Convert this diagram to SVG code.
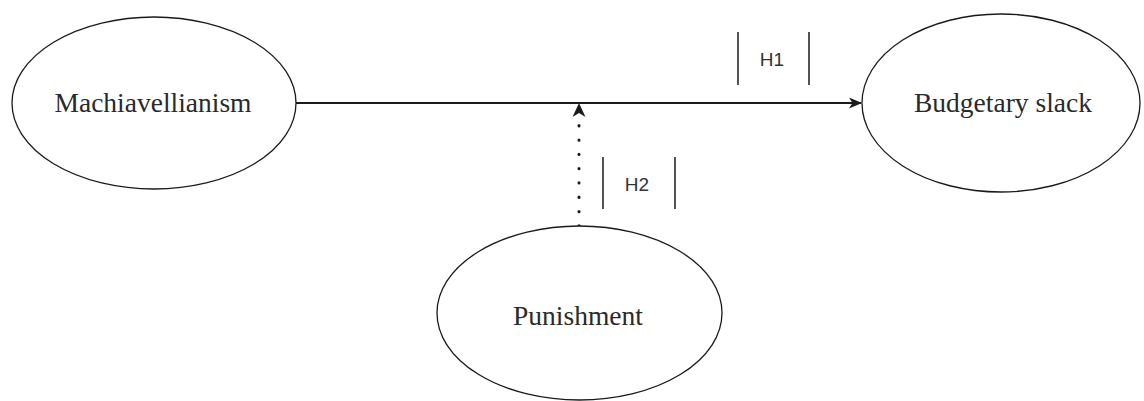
<svg xmlns="http://www.w3.org/2000/svg" width="1144" height="401" viewBox="0 0 1144 401">
  <style>
    .node ellipse { fill: #ffffff; stroke: #1a1a1a; stroke-width: 1.3; }
    .lbl { font-family: "Liberation Serif", "Times New Roman", serif; font-size: 27.5px; fill: #2a2a2a; text-anchor: middle; }
    .hyp { font-family: "Liberation Sans", Arial, sans-serif; font-size: 19px; fill: #333; text-anchor: middle; }
    .bar { stroke: #1a1a1a; stroke-width: 1.5; }
    .edge { stroke: #1a1a1a; stroke-width: 1.8; fill: none; }
  </style>
  <defs>
    <marker id="arrow" viewBox="0 0 13 11" refX="12" refY="5.5" markerWidth="13" markerHeight="11" markerUnits="userSpaceOnUse" orient="auto">
      <path d="M0,0 L13,5.5 L0,11 L3.5,5.5 Z" fill="#1a1a1a"/>
    </marker>
    <marker id="arrow2" viewBox="0 0 14 13" refX="13" refY="6.5" markerWidth="14" markerHeight="13" markerUnits="userSpaceOnUse" orient="auto">
      <path d="M0,0 L14,6.5 L0,13 L4,6.5 Z" fill="#1a1a1a"/>
    </marker>
  </defs>
  <rect width="1144" height="401" fill="#ffffff"/>

  <g id="connectors">
    <line class="edge" x1="296" y1="103" x2="861" y2="103" marker-end="url(#arrow)"/>
    <line x1="579" y1="226" x2="579" y2="120" stroke="#1a1a1a" stroke-width="3" stroke-linecap="round" stroke-dasharray="0.3 14"/>
    <line x1="579" y1="118" x2="579" y2="104" stroke="none" fill="none" marker-end="url(#arrow2)"/>
    <g id="h1">
      <line class="bar" x1="738" y1="32" x2="738" y2="85"/>
      <line class="bar" x1="809" y1="32" x2="809" y2="85"/>
      <text class="hyp" x="772" y="66">H1</text>
    </g>
    <g id="h2">
      <line class="bar" x1="603" y1="157" x2="603" y2="209"/>
      <line class="bar" x1="675" y1="157" x2="675" y2="209"/>
      <text class="hyp" x="637" y="191">H2</text>
    </g>
  </g>

  <g id="machiavellianism" class="node">
    <ellipse cx="154" cy="103" rx="142" ry="86"/>
    <text class="lbl" x="153" y="112">Machiavellianism</text>
  </g>
  <g id="budgetary-slack" class="node">
    <ellipse cx="1001" cy="103" rx="139" ry="89"/>
    <text class="lbl" x="1003" y="112">Budgetary slack</text>
  </g>
  <g id="punishment" class="node">
    <ellipse cx="579.5" cy="313" rx="142.5" ry="87"/>
    <text class="lbl" x="578" y="325">Punishment</text>
  </g>
</svg>
